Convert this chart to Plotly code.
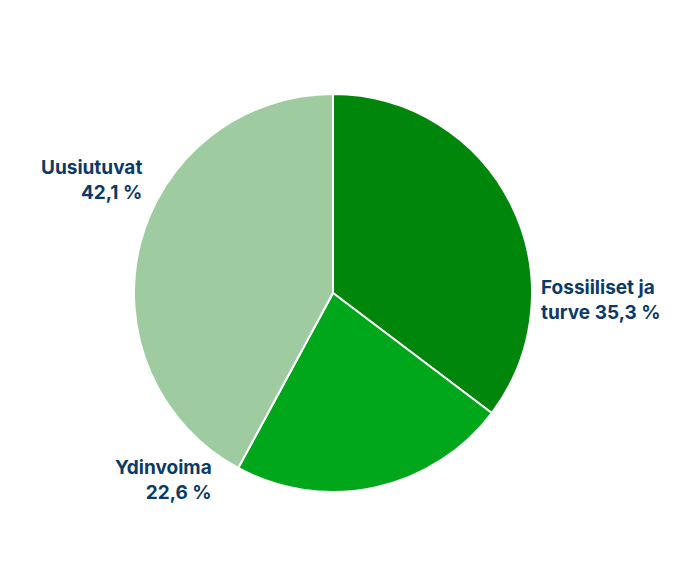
import plotly.graph_objects as go

labels = ["Fossiiliset ja turve", "Ydinvoima", "Uusiutuvat"]
values = [35.3, 22.6, 42.1]
value_text = ["35,3 %", "22,6 %", "42,1 %"]
colors = ["#00870B", "#00A71A", "#9ECBA0"]

# label text, split the way the reference wraps it
label_text = ["Fossiiliset ja<br>turve " + value_text[0],
              labels[1] + "<br>" + value_text[1],
              labels[2] + "<br>" + value_text[2]]

fig = go.Figure(go.Pie(
    labels=labels,
    values=values,
    textinfo="none",
    sort=False,
    direction="clockwise",
    rotation=0,
    marker=dict(colors=colors, line=dict(color="white", width=2)),
    hoverinfo="label+percent",
    showlegend=False,
))

# hand placed labels like in the reference
label_pos = [(1.018, 0.482, "left"), (0.200, 0.030, "right"), (0.026, 0.784, "right")]
for txt, (x, y, side) in zip(label_text, label_pos):
    fig.add_annotation(
        text=txt, x=x, y=y, xref="paper", yref="paper",
        xanchor=side, yanchor="middle", align=side, showarrow=False,
        font=dict(family="Inter", size=19, color="#0B3A66", weight="bold"),
    )

fig.update_layout(
    width=677, height=568,
    margin=dict(l=126, r=153, t=86, b=84),
    paper_bgcolor="white",
    plot_bgcolor="white",
)

fig.write_html("out.html")
